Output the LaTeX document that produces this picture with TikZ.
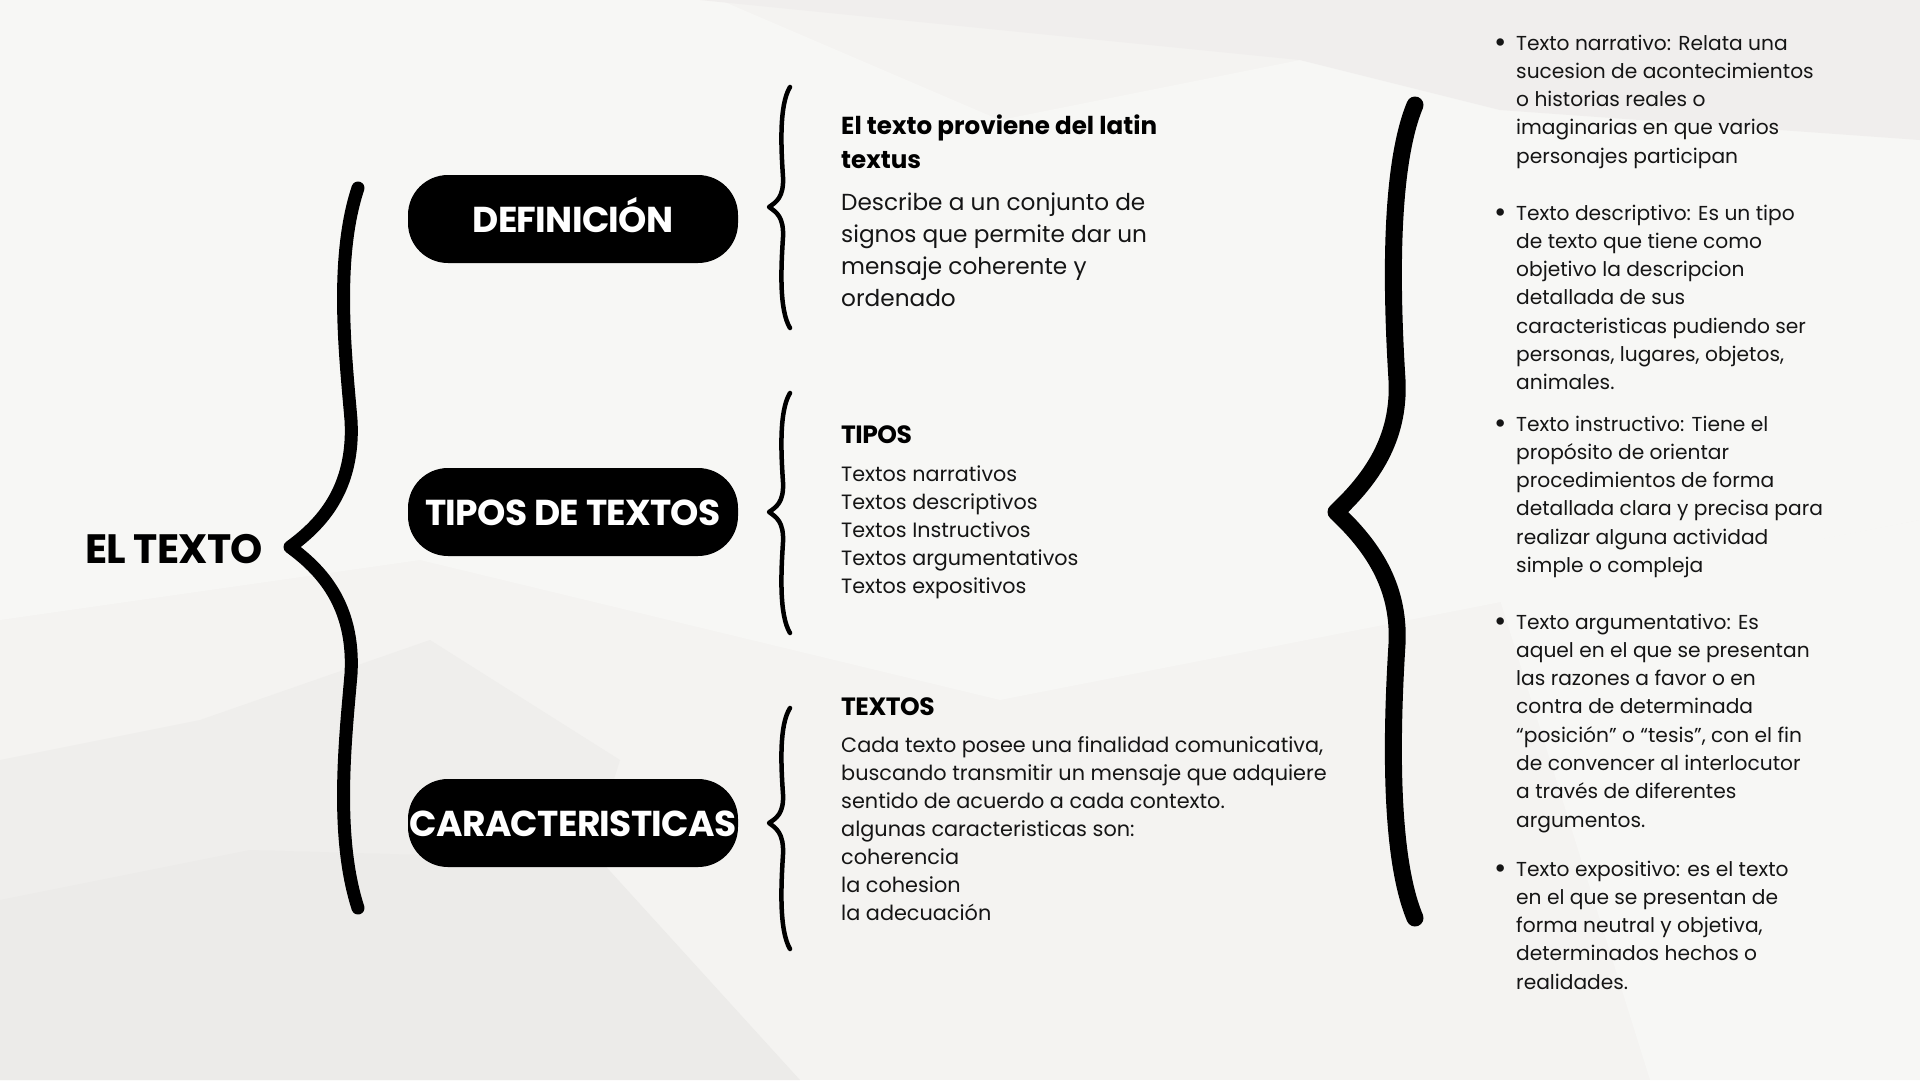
\documentclass[tikz,border=0pt]{standalone}
\usepackage{fontspec}
\setmainfont{Poppins}
\newfontfamily\headf{Poppins}[LetterSpace=-2]
\newfontfamily\bodyf{Poppins}
\definecolor{bgbase}{HTML}{F4F3F1}
\definecolor{bglight}{HTML}{F7F7F5}
\definecolor{bgdark}{HTML}{EFEEEC}
\definecolor{bgdarker}{HTML}{ECEBE9}
\definecolor{bgpink}{HTML}{F0EEED}
\definecolor{ink}{HTML}{151515}
\tikzset{
  pill/.style={fill=black, rounded corners=40pt, minimum width=330pt, minimum height=88pt,
    inner sep=0pt, text=white, text height=26pt, text depth=0pt,
    font=\headf\bfseries\fontsize{36}{40}\selectfont},
  bigbrace/.style={line width=13pt, line cap=round, line join=round, draw=black},
  rbrace/.style={line width=17pt, line cap=round, line join=round, draw=black},
  sbrace/.style={line width=4.5pt, line cap=round, line join=round, draw=black},
  txt/.style={anchor=base west, inner sep=0pt, text=ink},
  heading/.style={txt, text=black, font=\headf\bfseries\fontsize{23.5}{34}\selectfont},
}
\newcommand{\smbrace}[3]{% top, tip, bottom
  \draw[sbrace] (790,#1) .. controls (779,{#1+0.15*(#2-#1)}) and (781,{#1+0.5*(#2-#1)}) ..
    (783,{#2-0.25*(#2-#1)}) .. controls (784,{#2-0.08*(#2-#1)}) and (776,{#2-0.04*(#2-#1)}) .. (769,#2)
    .. controls (776,{#2+0.04*(#3-#2)}) and (784,{#2+0.08*(#3-#2)}) ..
    (783,{#2+0.25*(#3-#2)}) .. controls (781,{#3-0.5*(#3-#2)}) and (779,{#3-0.15*(#3-#2)}) .. (790,#3);}
\begin{document}
\begin{tikzpicture}[x=1pt,y=-1pt]
\useasboundingbox (0,0) rectangle (1920,1080);
% background paper
\fill[bgbase] (0,0) rectangle (1920,1080);
\fill[bglight] (0,0) -- (720,0) -- (1000,120) -- (1300,60) -- (1920,140) -- (1920,520) -- (1000,700) -- (420,560) -- (0,620) -- cycle;
\fill[bgpink] (700,0) -- (1920,0) -- (1920,140) -- (1500,110) -- (1300,60) -- (1000,30) -- cycle;
\fill[bgdark] (0,760) -- (200,720) -- (430,640) -- (620,760) -- (520,1080) -- (0,1080) -- cycle;
\fill[bgdarker] (0,900) -- (250,850) -- (600,860) -- (800,1080) -- (0,1080) -- cycle;
\fill[bglight] (1500,600) -- (1920,520) -- (1920,1080) -- (1650,1080) -- cycle;

% root
\node[heading, font=\headf\bfseries\fontsize{41}{44}\selectfont] (root) at (85,563) {EL TEXTO};

% big left brace
\draw[bigbrace] (358,188) .. controls (334,260) and (346,360) .. (351,420)
  .. controls (355,490) and (320,525) .. (290,547)
  .. controls (320,569) and (355,604) .. (351,674)
  .. controls (346,734) and (334,834) .. (358,908);

% pills
\node[pill] (def) at (573,219) {DEFINICIÓN};
\node[pill] (tip) at (573,512) {TIPOS DE TEXTOS};
\node[pill] (car) at (573,823) {CARACTERISTICAS};

% small braces
\smbrace{87}{207}{328}
\smbrace{393}{512}{633}
\smbrace{708}{823}{949}

% definition texts
\node[txt, text=black, font=\bodyf\bfseries\fontsize{24.6}{34}\selectfont] (deft) at (841,134) {\parbox[t]{420pt}{El texto proviene del latin\\textus}};
\node[txt, font=\bodyf\fontsize{23.2}{32}\selectfont] (defd) at (841,210)
  {\parbox[t]{420pt}{Describe a un conjunto de\\signos que permite dar un\\mensaje coherente y\\ordenado}};

% tipos
\node[heading, font=\headf\bfseries\fontsize{25}{34}\selectfont] (tipt) at (841,443) {TIPOS};
\node[txt, font=\bodyf\fontsize{20.7}{28.2}\selectfont] (tipl) at (841,481)
  {\parbox[t]{420pt}{Textos narrativos\\Textos descriptivos\\Textos Instructivos\\Textos argumentativos\\Textos expositivos}};

% caracteristicas
\node[heading, font=\headf\bfseries\fontsize{25}{34}\selectfont] (cart) at (841,715) {TEXTOS};
\node[txt, font=\bodyf\fontsize{20.8}{28}\selectfont] (card) at (841,752)
  {\parbox[t]{560pt}{Cada texto posee una finalidad comunicativa,\\buscando transmitir un mensaje que adquiere\\sentido de acuerdo a cada contexto.\\algunas caracteristicas son:\\coherencia\\la cohesion\\la adecuación}};

% big right brace
\draw[rbrace] (1415,105) .. controls (1388,170) and (1392,300) .. (1397,380)
  .. controls (1400,440) and (1370,480) .. (1336,512)
  .. controls (1370,544) and (1400,584) .. (1397,644)
  .. controls (1392,724) and (1388,854) .. (1415,918);

% right column
\tikzset{item/.style={txt, font=\bodyf\fontsize{20.2}{28.3}\selectfont}}
\newcommand{\bul}{\leavevmode\llap{\raisebox{-2.5pt}{\fontsize{30}{30}\selectfont •}\hspace{9pt}}}
\node[item] (b1) at (1516,50) {\parbox[t]{400pt}{\bul Texto narrativo: Relata una\\sucesion de acontecimientos\\o historias reales o\\imaginarias en que varios\\personajes participan}};
\node[item] (b2) at (1516,220) {\parbox[t]{400pt}{\bul Texto descriptivo: Es un tipo\\de texto que tiene como\\objetivo la descripcion\\detallada de sus\\caracteristicas pudiendo ser\\personas, lugares, objetos,\\animales.}};
\node[item] (b3) at (1516,431) {\parbox[t]{400pt}{\bul Texto instructivo: Tiene el\\propósito de orientar\\procedimientos de forma\\detallada clara y precisa para\\realizar alguna actividad\\simple o compleja}};
\node[item] (b4) at (1516,629) {\parbox[t]{400pt}{\bul Texto argumentativo: Es\\aquel en el que se presentan\\las razones a favor o en\\contra de determinada\\“posición” o “tesis”, con el fin\\de convencer al interlocutor\\a través de diferentes\\argumentos.}};
\node[item] (b5) at (1516,876) {\parbox[t]{400pt}{\bul Texto expositivo: es el texto\\en el que se presentan de\\forma neutral y objetiva,\\determinados hechos o\\realidades.}};
\end{tikzpicture}
\end{document}
